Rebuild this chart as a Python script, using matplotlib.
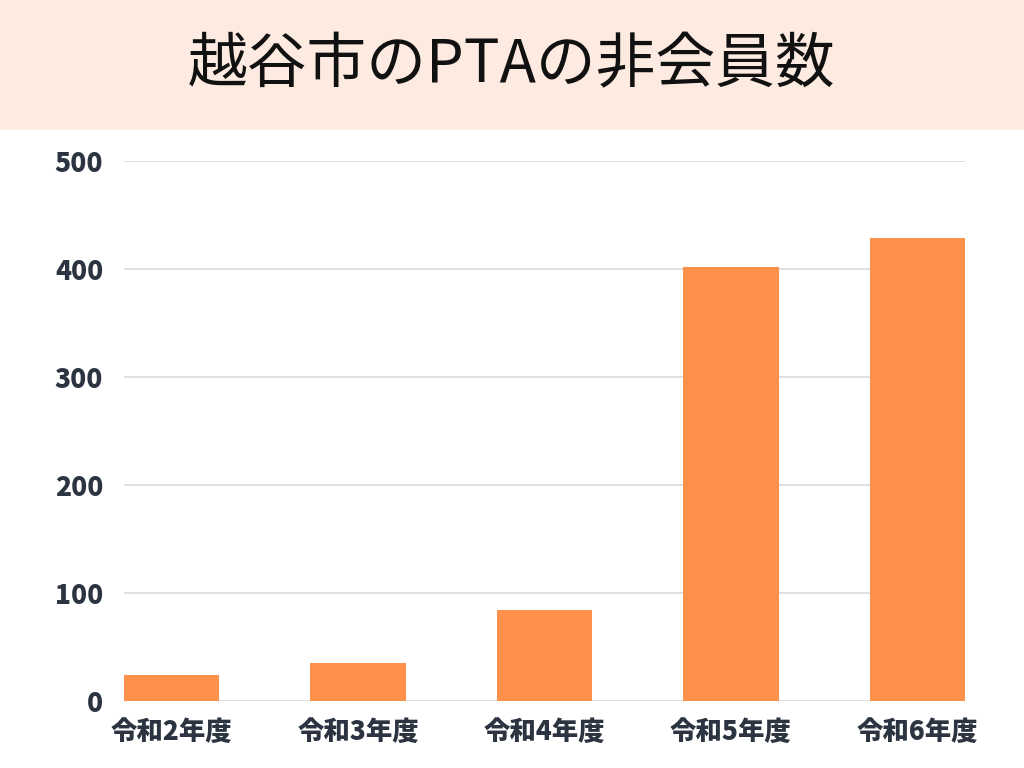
import matplotlib
matplotlib.use("Agg")
import matplotlib.pyplot as plt
from matplotlib.patches import Rectangle

categories = ["令和2年度", "令和3年度", "令和4年度", "令和5年度", "令和6年度"]
values = [24, 35, 84, 402, 429]
yticks = [0, 100, 200, 300, 400, 500]
title = "越谷市のPTAの非会員数"

plt.rcParams['font.family'] = ['Noto Sans CJK JP', 'DejaVu Sans']

fig = plt.figure(figsize=(10.24, 7.68), dpi=100)
fig.patch.set_facecolor("white")
fig.patches.append(Rectangle((0, 1 - 130/768), 1, 130/768, transform=fig.transFigure,
                             facecolor="#FDEAE0", edgecolor="none", zorder=0))
fig.text(0.5, 1 - 66/768, title, ha="center", va="center", fontsize=43,
         color="#111111", fontweight="normal")

ax = fig.add_axes([124/1024, 1 - 701/768, (965 - 124)/1024, (701 - 161)/768])
ax.set_facecolor("white")
x = list(range(len(categories)))
w = 0.51
ax.bar(x, values, width=w, color="#FF914D", zorder=3)
ax.set_xlim(-w/2, len(categories) - 1 + w/2)
ax.set_ylim(0, 500)
ax.set_yticks(yticks)
ax.set_yticklabels([str(v) for v in yticks])
ax.set_xticks(x)
ax.set_xticklabels(categories)
ax.grid(axis="y", color="#DDDDDD", linewidth=1.3, zorder=0)
ax.set_axisbelow(True)
for s in ax.spines.values():
    s.set_visible(False)
ax.tick_params(axis="both", length=0, labelsize=19, labelcolor="#2B3440")
ax.tick_params(axis="y", pad=15)
ax.tick_params(axis="x", pad=12)
for lab in ax.get_xticklabels() + ax.get_yticklabels():
    lab.set_fontweight("black")

fig.savefig("out.png", dpi=100, facecolor="white")
